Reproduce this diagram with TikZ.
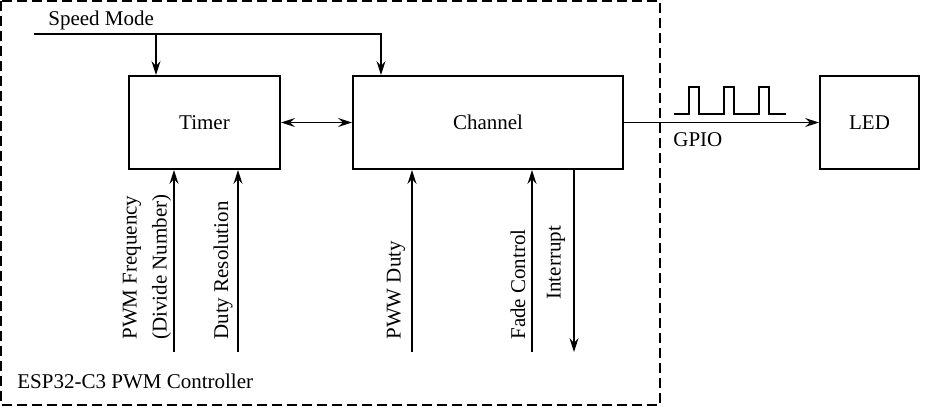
\documentclass[tikz,border=0pt]{standalone}
\usepackage{fontspec}
\setmainfont{Liberation Serif}
\usetikzlibrary{positioning,arrows.meta}

\begin{document}
\begin{tikzpicture} [x=0.5pt,y=-0.5pt,every node/.style={font=\fontsize{10.5}{15}\selectfont},
	>={Stealth[length=7pt,width=4.5pt,inset=2.5pt]},
	blk/.style={draw,line width=1pt,minimum height=46.5pt},
	arr/.style={->,line width=0.6pt},
	vlab/.style={rotate=90,anchor=west,inner sep=0pt,align=left}]

\useasboundingbox (0,0) rectangle (925,409);
% controller frame
\draw[line width=0.8pt,dash pattern=on 5pt off 2.5pt] (1,1) rectangle (660,405);
\node (ctl) [anchor=base west,inner sep=0pt] at (17,388) {ESP32-C3 PWM Controller};

\node (timer) [blk,minimum width=75.5pt] at (204.5,122.5) {Timer};
\node (chan) [blk,minimum width=135pt] at (488,122.5) {Channel};
\node (led) [blk,minimum width=49.5pt] at (869.5,122.5) {LED};

% speed mode
\coordinate (sm) at (34,34);
\node (smode) [anchor=base west,inner sep=0pt] at (48,25) {Speed Mode};
\draw[arr] (sm) -| ([xshift=14.5pt]chan.north west);
\draw[arr] ([xshift=14pt]timer.north west |- sm) -- ([xshift=14pt]timer.north west);

\draw[arr,<->] (timer) -- (chan);
\draw[arr] (chan) -- (led);
\node (gpio) [anchor=base west,inner sep=0pt] at (673,146) {GPIO};

% pwm wave
\draw[line width=1pt] (674,114) \foreach \p in {689,724,759}{ -- (\p,114) -- (\p,87) -- (\p+9.5,87) -- (\p+9.5,114)} -- (786,114);

% inputs
\foreach[count=\c] \x/\b in {174/timer,238/timer,412/chan,532/chan}{
	\coordinate (in\c) at (\x,352);
	\draw[arr] (in\c) -- (in\c |- \b.south);
}
\coordinate (irq) at (574,352);
\draw[arr] (irq |- chan.south) -- (irq);

\foreach[count=\c] \x/\y/\t in {147/340/{PWM Frequency\\(Divide Number)},223/340/Duty Resolution,396/340/PWW Duty,518/340/Fade Control,556/300/Interrupt}{
	\node (lab\c) [vlab] at (\x,\y) {\t};
}

\end{tikzpicture}
\end{document}
